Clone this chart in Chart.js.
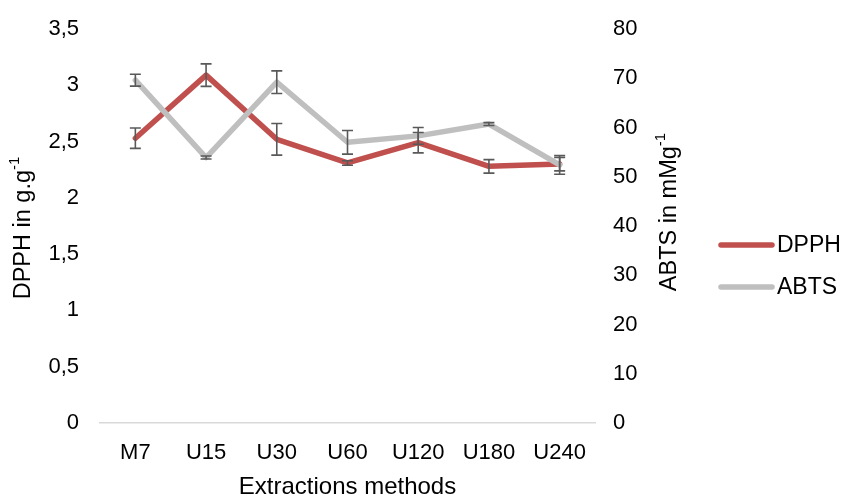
<!DOCTYPE html>
<html>
<head>
<meta charset="utf-8">
<script src="https://cdn.jsdelivr.net/npm/chart.js@4.4.1/dist/chart.umd.min.js"></script>
<style>
  html, body { margin: 0; padding: 0; background: #fff; }
  #wrap { width: 844px; height: 494px; }
</style>
</head>
<body>
<div id="wrap"><canvas id="chart" width="844" height="494"></canvas></div>
<script>
// values
const categories = ['M7', 'U15', 'U30', 'U60', 'U120', 'U180', 'U240'];
const dpphValues = [2.53, 3.09, 2.52, 2.31, 2.49, 2.28, 2.30];
const dpphErrors = [0.09, 0.10, 0.14, 0.02, 0.09, 0.06, 0.06];
const abtsValues = [69.6, 53.9, 69.2, 57.0, 58.3, 60.7, 52.4];
const abtsErrors = [1.2, 0.3, 2.3, 2.4, 1.7, 0.3, 1.9];
const dpphTicks = ['0', '0,5', '1', '1,5', '2', '2,5', '3', '3,5'];
const abtsTicks = ['0', '10', '20', '30', '40', '50', '60', '70', '80'];

const FONT = '"Liberation Sans", Arial, sans-serif';
const TICK_SIZE = 22;
const TITLE_SIZE = 23.5;

// error bars on top of the lines
const errorBars = {
  id: 'errorBars',
  afterDatasetsDraw(chart) {
    const ctx = chart.ctx;
    const xs = chart.scales.x;
    ctx.save();
    ctx.strokeStyle = '#595959';
    ctx.lineWidth = 1.6;
    chart.data.datasets.forEach(ds => {
      const ys = chart.scales[ds.yAxisID];
      ds.data.forEach((v, i) => {
        const e = ds.errors[i];
        const x = xs.getPixelForValue(i);
        const top = ys.getPixelForValue(v + e);
        const bot = ys.getPixelForValue(v - e);
        ctx.beginPath();
        ctx.moveTo(x, top); ctx.lineTo(x, bot);
        ctx.moveTo(x - 5.5, top); ctx.lineTo(x + 5.5, top);
        ctx.moveTo(x - 5.5, bot); ctx.lineTo(x + 5.5, bot);
        ctx.stroke();
      });
    });
    ctx.restore();
  }
};

// rotated axis titles with a superscript, reading bottom to top
function vTitle(ctx, x, y, text, sup) {
  const small = Math.round(TITLE_SIZE * 0.62);
  ctx.save();
  ctx.translate(x, y);
  ctx.rotate(-Math.PI / 2);
  ctx.font = TITLE_SIZE + 'px ' + FONT;
  const w1 = ctx.measureText(text).width;
  ctx.font = small + 'px ' + FONT;
  const w2 = ctx.measureText(sup).width;
  const start = -(w1 + w2) / 2;
  ctx.fillStyle = '#000';
  ctx.textBaseline = 'middle';
  ctx.textAlign = 'left';
  ctx.font = TITLE_SIZE + 'px ' + FONT;
  ctx.fillText(text, start, 0);
  ctx.font = small + 'px ' + FONT;
  ctx.fillText(sup, start + w1, -9);
  ctx.restore();
}

const extras = {
  id: 'extras',
  afterDraw(chart) {
    const ctx = chart.ctx;
    const a = chart.chartArea;
    vTitle(ctx, 24, 228, 'DPPH in g.g', '-1');
    vTitle(ctx, a.right + 75, 212, 'ABTS in mMg', '-1');

    const items = [
      { label: 'DPPH', color: '#C0504D', y: 245 },
      { label: 'ABTS', color: '#BFBFBF', y: 287 }
    ];
    ctx.save();
    ctx.lineCap = 'round';
    ctx.lineWidth = 5.5;
    ctx.font = '23px ' + FONT;
    ctx.textBaseline = 'middle';
    ctx.fillStyle = '#000';
    items.forEach(it => {
      ctx.strokeStyle = it.color;
      ctx.beginPath();
      ctx.moveTo(a.right + 126, it.y);
      ctx.lineTo(a.right + 177, it.y);
      ctx.stroke();
      ctx.fillText(it.label, a.right + 182, it.y + 1);
    });
    ctx.restore();
  }
};

// vertical axes: drop the label overflow padding so the plot spans the full height
function fitVertical(width) {
  return s => {
    s.width = width;
    s.paddingTop = 0;
    s.paddingBottom = 0;
  };
}

new Chart(document.getElementById('chart'), {
  type: 'line',
  data: {
    labels: categories,
    datasets: [
      {
        label: 'DPPH',
        data: dpphValues,
        errors: dpphErrors,
        yAxisID: 'y',
        borderColor: '#C0504D',
        borderWidth: 5.5,
        order: 1
      },
      {
        label: 'ABTS',
        data: abtsValues,
        errors: abtsErrors,
        yAxisID: 'y1',
        borderColor: '#BFBFBF',
        borderWidth: 5.5,
        order: 0
      }
    ]
  },
  options: {
    responsive: false,
    animation: false,
    devicePixelRatio: 1,
    layout: { padding: { top: 29, right: 164, left: 0, bottom: 0 } },
    elements: {
      line: { tension: 0, borderCapStyle: 'round', borderJoinStyle: 'round', fill: false },
      point: { radius: 0, hoverRadius: 0 }
    },
    plugins: {
      legend: { display: false },
      tooltip: { enabled: false }
    },
    scales: {
      x: {
        offset: true,
        grid: { display: false, drawTicks: false },
        border: { display: true, color: '#D9D9D9', width: 1.5 },
        ticks: { color: '#000', font: { family: FONT, size: TICK_SIZE }, padding: 17, maxRotation: 0, autoSkip: false },
        title: {
          display: true, text: 'Extractions methods', color: '#000',
          font: { family: FONT, size: 24 }, padding: { top: 0, bottom: -8 }
        },
        afterFit(s) { s.height = 71; }
      },
      y: {
        position: 'left',
        min: 0, max: 3.5,
        grid: { display: false, drawTicks: false },
        border: { display: false },
        ticks: {
          stepSize: 0.5,
          color: '#000',
          font: { family: FONT, size: TICK_SIZE },
          padding: 21,
          callback: (v, i) => dpphTicks[i]
        },
        afterFit: fitVertical(100)
      },
      y1: {
        position: 'right',
        min: 0, max: 80,
        grid: { display: false, drawTicks: false },
        border: { display: false },
        ticks: {
          stepSize: 10,
          color: '#000',
          font: { family: FONT, size: TICK_SIZE },
          padding: 18,
          callback: (v, i) => abtsTicks[i]
        },
        afterFit: fitVertical(85)
      }
    }
  },
  plugins: [errorBars, extras]
});
</script>
</body>
</html>
